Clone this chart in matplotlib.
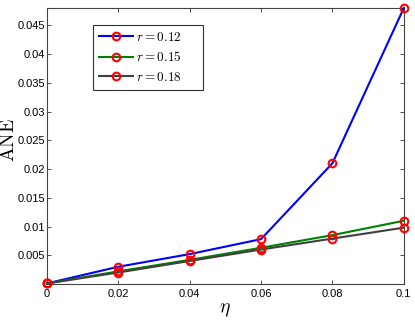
import numpy as np
import matplotlib
matplotlib.use('Agg')
import matplotlib.pyplot as plt

plt.rcParams['mathtext.fontset'] = 'cm'
plt.rcParams['font.family'] = 'Liberation Sans'

# data
eta = [0, 0.02, 0.04, 0.06, 0.08, 0.1]
ane_012 = [0.0001, 0.0030, 0.0052, 0.0078, 0.0210, 0.0480]
ane_015 = [0.0001, 0.0022, 0.0042, 0.0063, 0.0085, 0.0110]
ane_018 = [0.0001, 0.0020, 0.0040, 0.0060, 0.0079, 0.0098]
labels = [r'$r=0.12$', r'$r=0.15$', r'$r=0.18$']
colors = ['#0000ff', '#008000', '#404040']

fig = plt.figure(figsize=(4.15, 3.22), dpi=100)
ax = fig.add_axes([0.113, 0.118, 0.86, 0.857])

for y, c, lab in zip([ane_012, ane_015, ane_018], colors, labels):
    # trailing spaces give the wide legend box of the original
    ax.plot(eta, y, '-', color=c, lw=1.5, marker='o', ms=5.5,
            mfc='none', mec='red', mew=1.5, label=lab + '     ', clip_on=False, zorder=3)

ax.set_xlim(0, 0.1)
ax.set_ylim(0, 0.048)
ax.set_xticks([0, 0.02, 0.04, 0.06, 0.08, 0.1])
ax.set_xticklabels(['0', '0.02', '0.04', '0.06', '0.08', '0.1'])
ax.set_yticks([0.005, 0.01, 0.015, 0.02, 0.025, 0.03, 0.035, 0.04, 0.045])
ax.set_yticklabels(['0.005', '0.01', '0.015', '0.02', '0.025', '0.03', '0.035', '0.04', '0.045'])
ax.tick_params(direction='in', top=True, right=True, labelsize=8, length=3, width=0.6, colors='#333333', labelcolor='black')
ax.tick_params(axis='y', pad=1.5)
for s in ax.spines.values():
    s.set_color('#444444')
    s.set_linewidth(0.8)

ax.set_xlabel(r'$\eta$', fontsize=14, labelpad=2)
# y label placed on the figure so it stays inside the left edge
fig.text(9 / 415, 1 - 140 / 322, r'$\mathrm{ANE}$', fontsize=14, rotation=90,
         ha='center', va='center')

leg = ax.legend(loc='upper left', bbox_to_anchor=(0.129, 0.94), borderaxespad=0,
                fontsize=9.5, handlelength=2.6, fancybox=False, framealpha=1,
                borderpad=0.45, labelspacing=0.5, handletextpad=0.2)
leg.get_frame().set_edgecolor('#333333')
leg.get_frame().set_linewidth(0.8)

fig.savefig('out.png', dpi=100)
